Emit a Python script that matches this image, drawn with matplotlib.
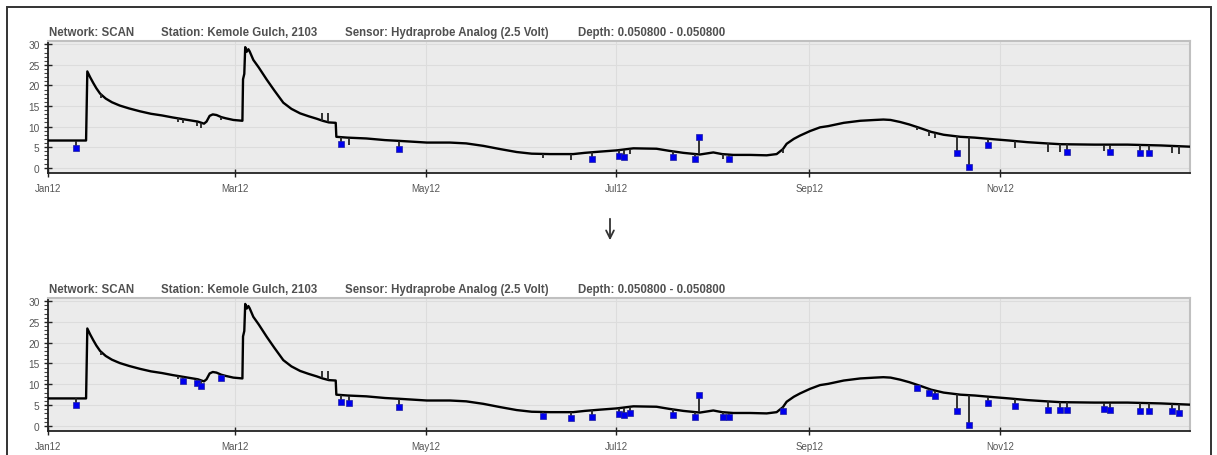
import numpy as np
import matplotlib
matplotlib.use("Agg")
import matplotlib.pyplot as plt
import matplotlib.dates as mdates
from matplotlib.patches import Rectangle, FancyArrowPatch

plt.rcParams['font.family'] = ['Liberation Sans', 'DejaVu Sans']

# soil temperature series, days since 2012-01-01
base_days = [0, 12.2, 12.6, 13.5, 14.5, 15.5, 16.7, 18.5, 20.5, 23, 26, 29.5, 33, 36.5, 40, 44, 48,
             50, 50.8, 51.8, 52.8, 54, 55.5, 57, 59.4, 62.3, 62.5, 62.9, 63.2, 63.7, 64.2, 64.6,
             65.8, 67.5, 70.1, 72.5, 75.4, 78, 80.8, 83.5, 86.1, 88, 90, 92.2, 92.4, 96, 102, 108,
             112.8, 121.4, 128.8, 134, 139.5, 145, 150.2, 155, 160.9, 168.3, 172, 176.9, 182.2,
             187.6, 195, 199, 203.6, 208.9, 213.2, 216, 219.6, 225, 230.3, 233.5, 235.5, 236.7,
             239, 241, 244.2, 247.4, 250, 255, 260.3, 265, 267.7, 270, 273.1, 276, 279.6, 283,
             287, 292.4, 297, 303.1, 308, 313.8, 320, 324.5, 335.2, 345.9, 356.6, 366]
base_vals = [6.6, 6.6, 23.4, 22.0, 20.6, 19.3, 18.0, 16.8, 15.9, 15.1, 14.4, 13.7, 13.1, 12.7, 12.2,
             11.7, 11.2, 10.7, 11.2, 12.6, 12.95, 12.8, 12.3, 12.0, 11.6, 11.4, 21.5, 22.8, 29.3,
             28.2, 28.8, 28.3, 26.2, 24.4, 21.4, 18.8, 15.8, 14.3, 13.2, 12.5, 11.9, 11.4, 11.0,
             10.9, 7.5, 7.3, 7.1, 6.7, 6.5, 6.1, 6.1, 5.9, 5.3, 4.5, 3.8, 3.4, 3.3, 3.3, 3.6, 3.9,
             4.2, 4.7, 4.6, 4.1, 3.6, 3.2, 3.7, 3.3, 3.1, 3.1, 3.0, 3.3, 4.5, 5.8, 7.0, 7.8, 8.9,
             9.8, 10.1, 10.9, 11.4, 11.6, 11.7, 11.6, 11.1, 10.5, 9.6, 8.7, 8.0, 7.5, 7.3, 6.9,
             6.6, 6.2, 5.9, 5.7, 5.6, 5.6, 5.4, 5.1]

# single-point spikes and whether QC flagged them (before / after)
spike_days = [9.1, 16.9, 41.6, 43.4, 47.9, 49.1, 55.4, 87.9, 89.6, 93.8, 96.4, 112.6, 158.5, 167.5,
              174.4, 183.0, 184.5, 186.5, 200.4, 207.3, 208.5, 216.3, 218.3, 235.4, 278.4, 282.4,
              284.4, 291.4, 295.2, 301.1, 309.8, 320.4, 324.4, 326.4, 338.4, 340.4, 349.9, 352.9,
              360.3, 362.3]
spike_vals = [4.9, 17.0, 11.2, 10.9, 10.2, 9.7, 11.5, 13.2, 13.2, 5.8, 5.6, 4.5, 2.3, 1.8,
              2.2, 2.9, 2.6, 3.2, 2.5, 2.1, 7.4, 2.2, 2.2, 3.6, 9.1, 7.8,
              7.2, 3.6, 0.1, 5.6, 4.7, 3.8, 3.8, 3.9, 4.0, 3.9, 3.6, 3.6,
              3.6, 3.2]
flag_before = [1, 0, 0, 0, 0, 0, 0, 0, 0, 1, 0, 1, 0, 0,
               1, 1, 1, 0, 1, 1, 1, 0, 1, 0, 0, 0,
               0, 1, 1, 1, 0, 0, 0, 1, 0, 1, 1, 1,
               0, 0]
flag_after = [1, 0, 0, 1, 1, 1, 1, 0, 0, 1, 1, 1, 1, 1,
              1, 1, 1, 1, 1, 1, 1, 1, 1, 1, 1, 1,
              1, 1, 1, 1, 1, 1, 1, 1, 1, 1, 1, 1,
              1, 1]

title_parts = ["Network: SCAN", "Station: Kemole Gulch, 2103",
               "Sensor: Hydraprobe Analog (2.5 Volt)", "Depth: 0.050800 - 0.050800"]
title_x = [49, 161, 344.5, 577.5]

W, H = 1217, 456
start = np.datetime64('2012-01-01T00:00')


def to_dates(days):
    return start + (np.asarray(days) * 24 * 60).astype('timedelta64[m]')


def draw_panel(ax, flags, title_y):
    ax.set_facecolor('#ebebeb')
    ax.grid(True, which='major', color='#dcdcdc', lw=0.8)
    ax.set_axisbelow(True)

    ax.plot(to_dates(base_days), base_vals, color='black', lw=1.7, zorder=3)
    sd = np.array(spike_days)
    tops = np.interp(sd, base_days, base_vals)
    ax.vlines(to_dates(sd), tops, spike_vals, color='#222222', lw=1.3, zorder=3)
    fl = np.array(flags, dtype=bool)
    ax.plot(to_dates(sd[fl]), np.array(spike_vals)[fl], 's', color='#0000ee',
            mec='#2020a0', mew=0.5, ms=4.2, zorder=4, ls='none')

    ax.set_xlim(np.datetime64('2012-01-01'), np.datetime64('2012-12-31T23:00'))
    ax.set_ylim(-1.3, 30.8)
    ax.xaxis.set_major_locator(mdates.MonthLocator(bymonth=[1, 3, 5, 7, 9, 11]))
    ax.xaxis.set_major_formatter(mdates.DateFormatter('%b%y'))
    ax.set_yticks(range(0, 31, 5))
    ax.set_yticks(range(0, 31), minor=True)
    ax.tick_params(axis='x', direction='inout', length=6, width=1, color='#222222',
                   labelsize=7, labelcolor='#555555', pad=4)
    ax.tick_params(axis='y', which='major', direction='inout', length=6, width=1,
                   color='#222222', labelsize=7.3, labelcolor='#555555', pad=3)
    ax.tick_params(axis='y', which='minor', direction='out', length=3, width=0.8,
                   color='#444444')
    for s in ['left', 'bottom']:
        ax.spines[s].set_color('#222222')
        ax.spines[s].set_linewidth(1.3)
    for s in ['top', 'right']:
        ax.spines[s].set_color('#c0c0c0')
        ax.spines[s].set_linewidth(1.5)

    for txt, x in zip(title_parts, title_x):
        fig.text(x / W, 1 - title_y / H, txt, fontsize=8.3, fontweight='bold',
                 color='#505050', va='center', ha='left')


fig = plt.figure(figsize=(W / 100, H / 100), dpi=100)
ax1 = fig.add_axes([48 / W, 1 - 174 / H, 1142 / W, 132 / H])
ax2 = fig.add_axes([48 / W, 1 - 432.3 / H, 1142 / W, 133.6 / H])
draw_panel(ax1, flag_before, 33.3)
draw_panel(ax2, flag_after, 290)

# outer frame and arrow between the two panels
fig.add_artist(Rectangle((6.5 / W, -0.1), (1211 - 6.5) / W, 1.1 - 8 / H, transform=fig.transFigure,
                         fill=False, ec='#333333', lw=1.4))
fig.add_artist(FancyArrowPatch((610 / W, 1 - 217 / H), (610 / W, 1 - 244 / H),
                               transform=fig.transFigure, arrowstyle='->', mutation_scale=14,
                               color='#333333', lw=1.3))

fig.savefig('out.png', dpi=100)
